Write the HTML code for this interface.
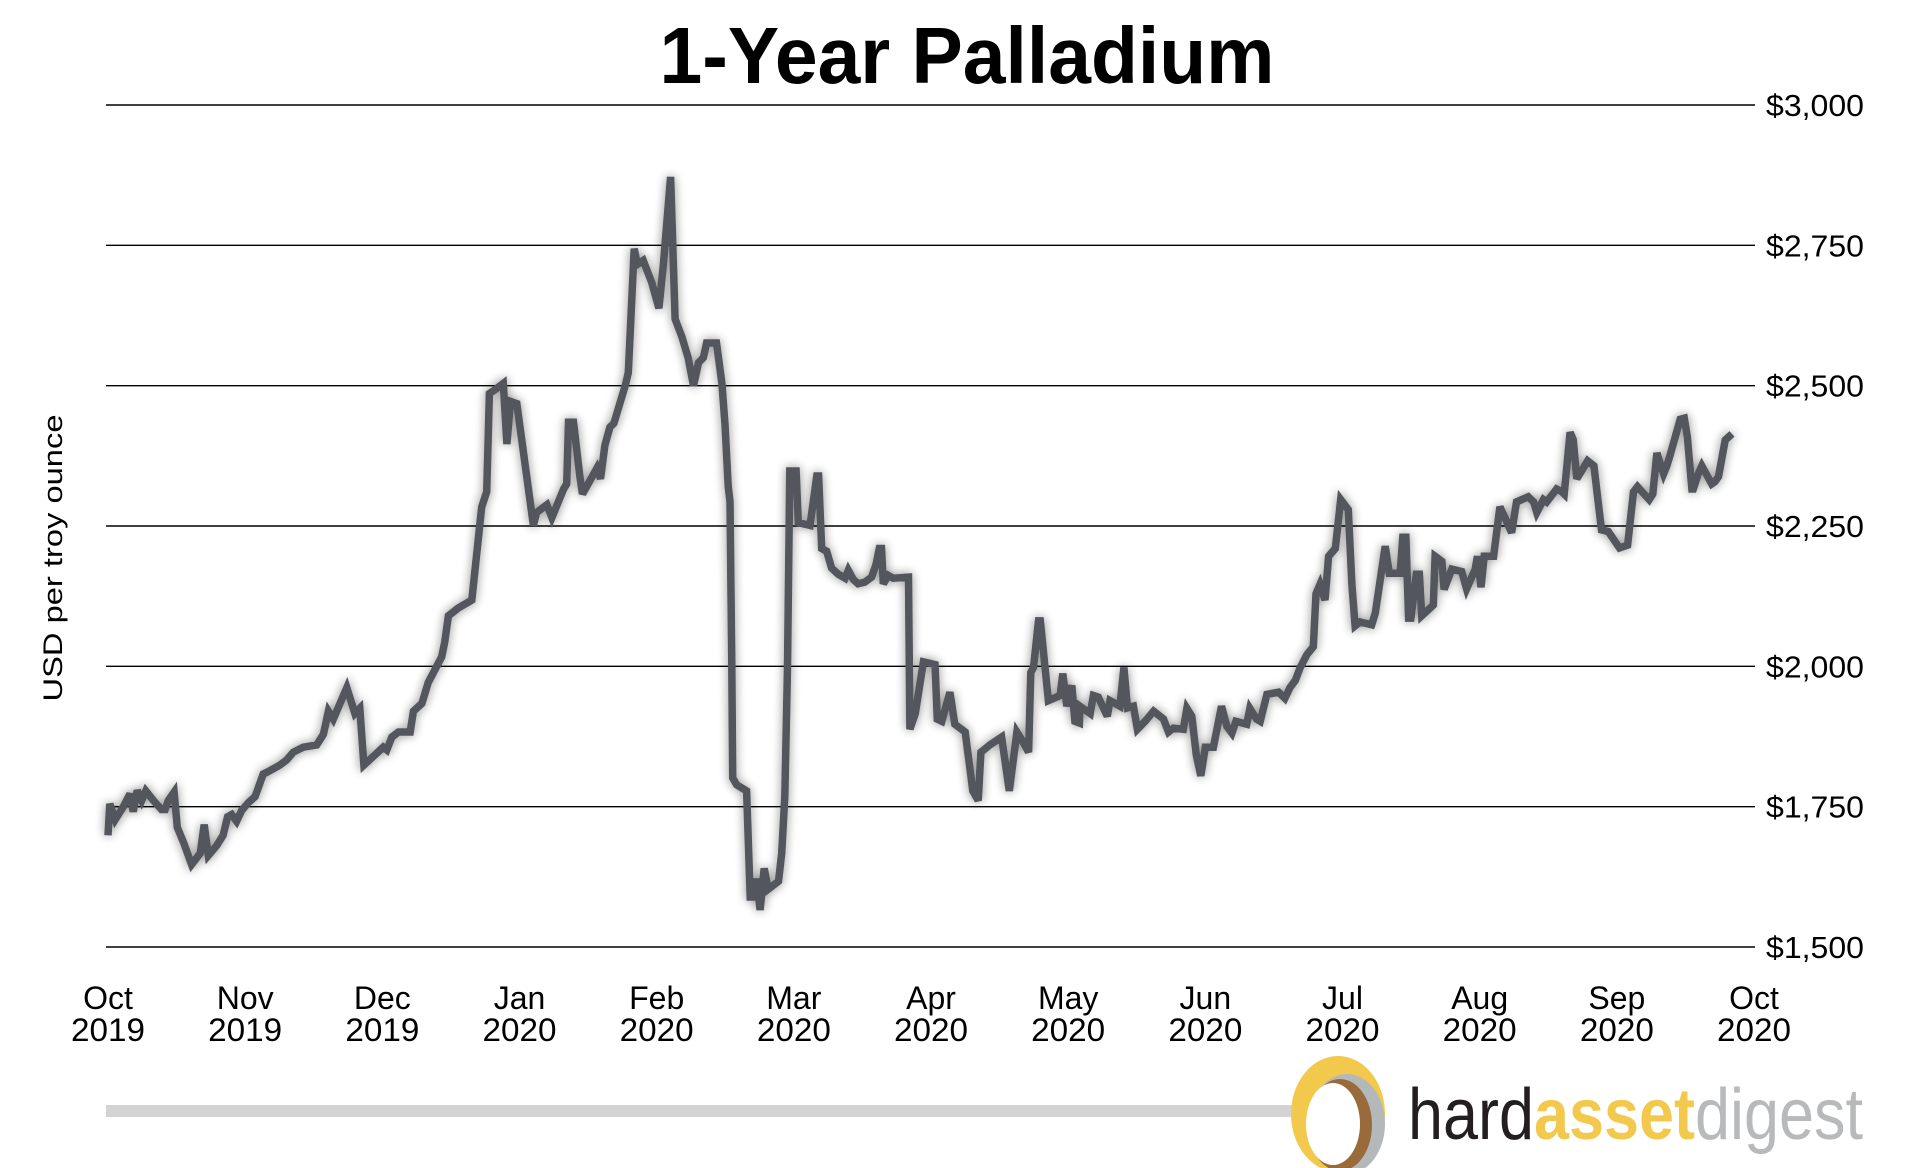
<!DOCTYPE html>
<html><head><meta charset="utf-8"><style>
html,body{margin:0;padding:0;background:#fff;}
svg{display:block;}
</style></head><body>
<svg id="chart" width="1920" height="1168" viewBox="0 0 1920 1168" xmlns="http://www.w3.org/2000/svg" font-family="'Liberation Sans', sans-serif">
<defs><filter id="shadow" x="-5%" y="-5%" width="110%" height="110%"><feGaussianBlur in="SourceAlpha" stdDeviation="5"/><feOffset dx="0" dy="0"/><feComponentTransfer><feFuncA type="linear" slope="0.45"/></feComponentTransfer><feMerge><feMergeNode/><feMergeNode in="SourceGraphic"/></feMerge></filter></defs>
<text x="967" y="83" text-anchor="middle" font-size="80" font-weight="bold" textLength="615" lengthAdjust="spacingAndGlyphs" fill="#000">1-Year Palladium</text>
<g id="grid"></g>
<g id="ylabels"></g>
<g id="xlabels"></g>
<text transform="translate(62,558) rotate(-90)" text-anchor="middle" font-size="27" textLength="287" lengthAdjust="spacingAndGlyphs" fill="#000">USD per troy ounce</text>
<g id="series"></g>
<rect x="106" y="1105" width="1187" height="12" fill="#d3d3d3"/>
<g>
<ellipse cx="1338" cy="1114" rx="47" ry="58" fill="#f2c94c"/>
<ellipse cx="1347" cy="1124" rx="38" ry="50" fill="#b5b8bb"/>
<ellipse cx="1340" cy="1125" rx="32" ry="46" fill="#9a6b3a"/>
<ellipse cx="1333" cy="1124" rx="27" ry="41" fill="#fff"/>
<text x="1408" y="1139" font-size="72" textLength="455" lengthAdjust="spacingAndGlyphs"><tspan fill="#231f20">hard</tspan><tspan fill="#f2c94c" font-weight="bold">asset</tspan><tspan fill="#b7b9bb">digest</tspan></text>
</g>
</svg>
<script>
const days = [0,0.4,1.6,3.4,4.9,5.6,6.5,7.5,8.4,10.1,11.9,12.7,13.4,14.7,15.4,16.8,18.6,20.5,21.4,22.3,24.2,25.6,26.6,27.5,28.6,29.7,31.2,32.7,34.5,36.0,38.2,39.7,41.2,43.4,46.4,47.9,49.0,50.1,53.1,54.9,56.0,56.9,61.2,62.0,63.1,64.6,67.2,67.9,69.8,71.2,74.2,74.9,75.7,77.9,80.9,83.1,84.2,84.8,86.1,87.9,88.7,89.5,90.9,94.6,95.3,97.6,98.7,101.3,102.0,102.4,103.5,104.9,105.5,108.7,109.5,110.5,111.6,112.5,115.0,115.7,117.0,117.7,119.0,120.9,122.5,123.5,125.1,126.1,127.6,129.0,130.2,131.3,132.4,133.1,135.3,136.5,137.2,137.9,138.3,138.7,138.9,139.8,142.0,142.8,143.6,144.2,145.0,145.9,146.8,149.1,149.8,150.5,151.1,151.6,153.0,153.5,156.1,157.6,158.0,158.7,159.8,160.9,162.4,163.9,164.6,165.7,166.8,168.3,169.8,170.8,171.5,172.0,172.4,173.5,174.6,178.0,178.3,179.5,181.3,183.9,184.4,185.4,187.2,188.3,190.6,192.3,193.5,194.1,196.1,198.7,200.4,202.1,203.2,204.7,205.2,205.8,206.9,207.3,209.1,211.7,212.3,213.2,214.3,215.0,216.0,216.1,218.4,219.1,220.2,222.2,222.8,225.0,225.9,226.7,228.0,228.9,230.6,232.5,234.7,235.8,236.9,239.1,239.9,241.0,242.0,243.0,244.0,245.8,247.6,248.8,249.9,250.8,253.2,253.9,255.4,256.2,257.7,260.3,261.7,262.8,264.0,265.1,266.6,268.0,268.6,269.5,270.6,271.4,272.9,274.1,275.8,276.6,277.3,278.4,281.0,281.8,284.0,284.9,287.3,287.9,288.6,289.2,289.7,290.9,291.6,292.1,294.7,295.1,296.6,297.1,298.8,301.0,302.1,304.0,304.5,305.3,306.0,308.1,309.5,310.6,312.1,313.2,315.8,317.0,317.7,319.2,319.9,322.1,323.3,323.8,325.1,325.8,326.6,329.0,330.4,332.1,333.6,336.1,337.9,339.2,340.1,342.7,343.5,344.4,345.9,346.6,347.3,349.6,350.5,351.2,352.2,352.5,353.6,354.4,356.6,357.3,358.1,359.6,361.1];
const prices = [1699,1755,1727,1750,1773,1741,1779,1761,1778,1761,1745,1745,1761,1776,1713,1686,1647,1667,1718,1663,1681,1699,1732,1736,1724,1743,1757,1768,1808,1814,1824,1833,1847,1856,1860,1879,1920,1906,1962,1916,1925,1824,1856,1851,1874,1883,1883,1920,1934,1971,2017,2044,2090,2104,2118,2284,2311,2486,2493,2504,2396,2472,2468,2251,2274,2288,2265,2316,2325,2435,2435,2339,2307,2353,2334,2394,2426,2433,2500,2523,2744,2716,2723,2684,2638,2716,2872,2619,2587,2550,2500,2541,2550,2576,2576,2504,2431,2321,2293,2000,1801,1789,1778,1589,1589,1622,1566,1640,1603,1617,1667,1768,1998,2348,2348,2256,2251,2339,2339,2210,2205,2175,2164,2157,2171,2155,2147,2150,2159,2182,2210,2210,2147,2162,2157,2159,1888,1916,2008,2003,1906,1902,1954,1897,1883,1778,1761,1847,1860,1874,1778,1883,1869,1847,1989,1998,2081,2081,1939,1948,1987,1929,1966,1902,1899,1929,1916,1948,1945,1911,1939,1929,1998,1926,1929,1888,1902,1920,1906,1883,1890,1888,1925,1911,1842,1805,1856,1856,1929,1893,1881,1902,1897,1925,1906,1902,1950,1954,1943,1962,1975,1998,2021,2035,2129,2146,2118,2196,2210,2297,2279,2146,2072,2079,2074,2095,2214,2166,2166,2230,2230,2086,2086,2164,2164,2090,2109,2196,2187,2137,2173,2169,2138,2173,2196,2141,2196,2196,2284,2265,2238,2293,2302,2293,2274,2297,2293,2316,2311,2307,2417,2404,2334,2366,2357,2243,2240,2211,2216,2311,2320,2297,2307,2380,2343,2357,2375,2440,2442,2408,2316,2316,2343,2357,2325,2329,2338,2403,2414,2384];
const yTicks = [3000,2750,2500,2250,2000,1750,1500];
const yTickLabels = ["$3,000","$2,750","$2,500","$2,250","$2,000","$1,750","$1,500"];
const monthLabels = ["Oct","Nov","Dec","Jan","Feb","Mar","Apr","May","Jun","Jul","Aug","Sep","Oct"];
const yearLabels = ["2019","2019","2019","2020","2020","2020","2020","2020","2020","2020","2020","2020","2020"];

const NS = "http://www.w3.org/2000/svg";
const X0 = 108, X1 = 1754, DAYSPAN = 366;
const YTOP = 105, YBOT = 947, PMAX = 3000, PMIN = 1500;
function xScale(d){ return X0 + d / DAYSPAN * (X1 - X0); }
function yScale(p){ return YTOP + (PMAX - p) / (PMAX - PMIN) * (YBOT - YTOP); }

const grid = document.getElementById('grid');
const ylab = document.getElementById('ylabels');
yTicks.forEach((t, i) => {
  const ln = document.createElementNS(NS, 'line');
  ln.setAttribute('x1', 106); ln.setAttribute('x2', 1755);
  ln.setAttribute('y1', yScale(t)); ln.setAttribute('y2', yScale(t));
  ln.setAttribute('stroke', '#000'); ln.setAttribute('stroke-width', '1.4');
  
  
  grid.appendChild(ln);
  const tx = document.createElementNS(NS, 'text');
  tx.setAttribute('x', 1766); tx.setAttribute('y', yScale(t) + 11);
  tx.setAttribute('font-size', '31');
  tx.setAttribute('textLength', '98');
  tx.setAttribute('lengthAdjust', 'spacingAndGlyphs');
  tx.textContent = yTickLabels[i];
  
  
  ylab.appendChild(tx);
});

const xlab = document.getElementById('xlabels');
monthLabels.forEach((m, i) => {
  const cx = X0 + i * (X1 - X0) / 12;
  const t1 = document.createElementNS(NS, 'text');
  t1.setAttribute('x', cx); t1.setAttribute('y', 1009);
  t1.setAttribute('text-anchor', 'middle'); t1.setAttribute('font-size', '32');
  t1.textContent = m;
  
  
  xlab.appendChild(t1);
  const t2 = document.createElementNS(NS, 'text');
  t2.setAttribute('x', cx); t2.setAttribute('y', 1041);
  t2.setAttribute('text-anchor', 'middle'); t2.setAttribute('font-size', '32');
  t2.setAttribute('textLength', '74');
  t2.setAttribute('lengthAdjust', 'spacingAndGlyphs');
  t2.textContent = yearLabels[i];
  
  
  xlab.appendChild(t2);
});

const series = document.getElementById('series');
let d = '';
days.forEach((dd, i) => { d += (i ? 'L' : 'M') + xScale(dd).toFixed(1) + ',' + yScale(prices[i]).toFixed(1); });
const path = document.createElementNS(NS, 'path');
path.setAttribute('d', d);
path.setAttribute('fill', 'none');
path.setAttribute('stroke', '#53575b');
path.setAttribute('stroke-width', '7.5');
path.setAttribute('stroke-linejoin', 'miter');
path.setAttribute('stroke-miterlimit', '3');
path.setAttribute('filter', 'url(#shadow)');


series.appendChild(path);
</script>
</body></html>
